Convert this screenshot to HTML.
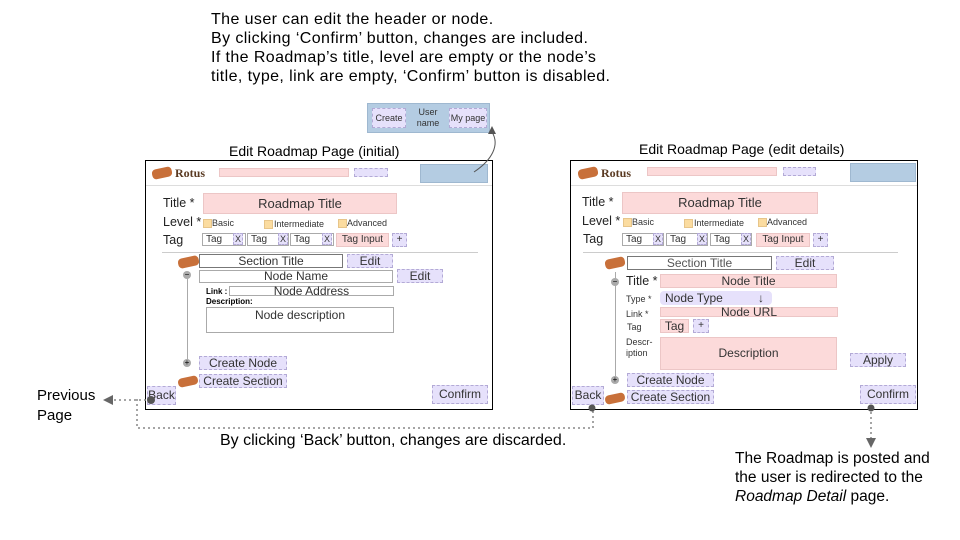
<!DOCTYPE html>
<html><head><meta charset="utf-8"><style>
body{margin:0;width:960px;height:540px;background:#fff;position:relative;font-family:"Liberation Sans",sans-serif;overflow:hidden}
div{position:absolute;box-sizing:border-box}
.t{white-space:nowrap;color:#000}
.lav{background:#e6e1fb;border:1px dashed #b3aad6;color:#333;text-align:center;font-size:12px}
.pink{background:#fcdada;border:1px solid #ecc6c6;color:#333;text-align:center;font-size:12px}
.wb{background:#fff;border:1px solid #aaa;color:#333;text-align:center;font-size:12px}
.blue{background:#b4cce2;border:1px solid #9fb8d0}
.frame{border:1.5px solid #000;background:#fff}
.logo{background:#c8703a;border-radius:4px;transform:rotate(-12deg)}
.cb{width:9px;height:9px;background:#fbdca0;border:1px solid #e7c58a}
.s{font-size:9px;color:#333}
.lbl{font-size:12.5px;color:#222}
.circ{width:8px;height:8px;border-radius:50%;background:#aaa;font-size:8px;line-height:7px;text-align:center;color:#000}
</style></head><body>

<div class="t" style="left:211px;top:10px;font-size:16px;letter-spacing:0.4px;line-height:19px">The user can edit the header or node.<br>By clicking ‘Confirm’ button, changes are included.<br>If the Roadmap’s title, level are empty or the node’s<br>title, type, link are empty, ‘Confirm’ button is disabled.</div>

<div class="blue" style="left:367px;top:103px;width:123px;height:30px"></div>
<div class="lav" style="left:372px;top:108px;width:34px;height:20px;font-size:9px;line-height:18px">Create</div>
<div class="t" style="left:414px;top:107px;width:28px;font-size:9px;line-height:11px;text-align:center;color:#333">User<br>name</div>
<div class="lav" style="left:449px;top:108px;width:38px;height:20px;font-size:9px;line-height:18px">My page</div>

<div class="t" style="left:229px;top:143px;font-size:14px">Edit Roadmap Page (initial)</div>
<div class="t" style="left:639px;top:141px;font-size:14px">Edit Roadmap Page (edit details)</div>

<!-- LEFT FRAME -->
<div class="frame" style="left:145px;top:160px;width:348px;height:250px"></div>
<div style="left:146px;top:185px;width:346px;height:1px;background:#ddd"></div>
<div class="logo" style="left:152px;top:168px;width:20px;height:10px"></div>
<div class="t" style="left:175px;top:166px;font-size:12px;font-weight:bold;color:#5a3a22;font-family:'Liberation Serif',serif">Rotus</div>
<div class="pink" style="left:219px;top:168px;width:130px;height:9px"></div>
<div class="lav" style="left:354px;top:168px;width:34px;height:9px"></div>
<div class="blue" style="left:420px;top:164px;width:68px;height:19px"></div>

<div class="lbl" style="left:163px;top:196px">Title *</div>
<div class="pink" style="left:203px;top:193px;width:194px;height:21px;font-size:13px;line-height:19px">Roadmap Title</div>
<div class="lbl" style="left:163px;top:215px">Level *</div>
<div class="cb" style="left:203px;top:219px"></div><div class="s" style="left:212px;top:218px">Basic</div>
<div class="cb" style="left:264px;top:220px"></div><div class="s" style="left:274px;top:219px">Intermediate</div>
<div class="cb" style="left:338px;top:219px"></div><div class="s" style="left:347px;top:218px">Advanced</div>
<div class="lbl" style="left:163px;top:233px">Tag</div>
<div class="wb" style="left:202px;top:233px;width:44px;height:13px;text-align:left;padding-left:3px;font-size:10px;line-height:11px">Tag</div><div class="lav" style="left:233px;top:233px;width:10px;height:12px;font-size:9px;line-height:10px">X</div>
<div class="wb" style="left:247px;top:233px;width:42px;height:13px;text-align:left;padding-left:3px;font-size:10px;line-height:11px">Tag</div><div class="lav" style="left:278px;top:233px;width:10px;height:12px;font-size:9px;line-height:10px">X</div>
<div class="wb" style="left:290px;top:233px;width:44px;height:13px;text-align:left;padding-left:3px;font-size:10px;line-height:11px">Tag</div><div class="lav" style="left:322px;top:233px;width:10px;height:12px;font-size:9px;line-height:10px">X</div>
<div class="pink" style="left:336px;top:233px;width:53px;height:14px;font-size:10px;line-height:12px">Tag Input</div>
<div class="lav" style="left:392px;top:233px;width:15px;height:14px;font-size:10px;line-height:12px">+</div>
<div style="left:162px;top:252px;width:316px;height:1px;background:#ccc"></div>

<div style="left:187px;top:272px;width:1px;height:92px;background:#aaa"></div>
<div class="logo" style="left:178px;top:257px;width:21px;height:10px"></div>
<div class="wb" style="left:199px;top:254px;width:144px;height:14px;border-color:#777;line-height:12px">Section Title</div>
<div class="lav" style="left:347px;top:254px;width:46px;height:14px;line-height:12px">Edit</div>
<div class="circ" style="left:183px;top:271px">−</div>
<div class="wb" style="left:199px;top:270px;width:194px;height:13px;line-height:11px">Node Name</div>
<div class="lav" style="left:397px;top:269px;width:46px;height:14px;line-height:12px">Edit</div>
<div class="t" style="left:206px;top:287px;font-size:8px;font-weight:bold">Link :</div>
<div class="wb" style="left:229px;top:286px;width:165px;height:10px;line-height:8px">Node Address</div>
<div class="t" style="left:206px;top:297px;font-size:8px;font-weight:bold">Description:</div>
<div class="wb" style="left:206px;top:307px;width:188px;height:26px;line-height:14px">Node description</div>
<div class="circ" style="left:183px;top:359px">+</div>
<div class="lav" style="left:199px;top:356px;width:88px;height:14px;line-height:12px">Create Node</div>
<div class="logo" style="left:178px;top:377px;width:20px;height:9px"></div>
<div class="lav" style="left:199px;top:374px;width:88px;height:14px;line-height:12px">Create Section</div>
<div class="lav" style="left:147px;top:386px;width:29px;height:19px;line-height:17px">Back</div>
<div class="lav" style="left:432px;top:385px;width:56px;height:19px;line-height:17px">Confirm</div>

<!-- RIGHT FRAME -->
<div class="frame" style="left:570px;top:160px;width:348px;height:250px"></div>
<div style="left:571px;top:185px;width:346px;height:1px;background:#ddd"></div>
<div class="logo" style="left:578px;top:168px;width:20px;height:10px"></div>
<div class="t" style="left:601px;top:166px;font-size:12px;font-weight:bold;color:#5a3a22;font-family:'Liberation Serif',serif">Rotus</div>
<div class="pink" style="left:647px;top:167px;width:130px;height:9px"></div>
<div class="lav" style="left:783px;top:167px;width:33px;height:9px"></div>
<div class="blue" style="left:850px;top:163px;width:66px;height:19px"></div>

<div class="lbl" style="left:582px;top:195px">Title *</div>
<div class="pink" style="left:622px;top:192px;width:196px;height:22px;font-size:13px;line-height:20px">Roadmap Title</div>
<div class="lbl" style="left:582px;top:214px">Level *</div>
<div class="cb" style="left:623px;top:218px"></div><div class="s" style="left:632px;top:217px">Basic</div>
<div class="cb" style="left:684px;top:219px"></div><div class="s" style="left:694px;top:218px">Intermediate</div>
<div class="cb" style="left:758px;top:218px"></div><div class="s" style="left:767px;top:217px">Advanced</div>
<div class="lbl" style="left:583px;top:232px">Tag</div>
<div class="wb" style="left:622px;top:233px;width:42px;height:13px;text-align:left;padding-left:3px;font-size:10px;line-height:11px">Tag</div><div class="lav" style="left:653px;top:233px;width:10px;height:12px;font-size:9px;line-height:10px">X</div>
<div class="wb" style="left:666px;top:233px;width:42px;height:13px;text-align:left;padding-left:3px;font-size:10px;line-height:11px">Tag</div><div class="lav" style="left:697px;top:233px;width:10px;height:12px;font-size:9px;line-height:10px">X</div>
<div class="wb" style="left:710px;top:233px;width:42px;height:13px;text-align:left;padding-left:3px;font-size:10px;line-height:11px">Tag</div><div class="lav" style="left:741px;top:233px;width:10px;height:12px;font-size:9px;line-height:10px">X</div>
<div class="pink" style="left:756px;top:233px;width:54px;height:14px;font-size:10px;line-height:12px">Tag Input</div>
<div class="lav" style="left:813px;top:233px;width:15px;height:14px;font-size:10px;line-height:12px">+</div>
<div style="left:583px;top:252px;width:315px;height:1px;background:#ccc"></div>

<div style="left:615px;top:272px;width:1px;height:110px;background:#aaa"></div>
<div class="logo" style="left:605px;top:258px;width:20px;height:10px"></div>
<div class="wb" style="left:627px;top:256px;width:145px;height:14px;border-color:#777;line-height:12px;color:#555">Section Title</div>
<div class="lav" style="left:776px;top:256px;width:58px;height:14px;line-height:12px">Edit</div>
<div class="circ" style="left:611px;top:278px">−</div>
<div class="lbl" style="left:626px;top:274px">Title *</div>
<div class="pink" style="left:660px;top:274px;width:177px;height:14px;line-height:12px">Node Title</div>
<div class="t" style="left:626px;top:294px;font-size:9px;color:#333">Type *</div>
<div class="lav" style="left:660px;top:291px;width:112px;height:14px;border-style:solid;border-color:#e6e1fb;border-radius:4px;line-height:12px;text-align:left;padding-left:4px">Node Type<span style="position:absolute;left:97px;font-weight:bold">↓</span></div>
<div class="t" style="left:626px;top:309px;font-size:9px;color:#333">Link *</div>
<div class="pink" style="left:660px;top:307px;width:178px;height:10px;line-height:8px">Node URL</div>
<div class="t" style="left:627px;top:322px;font-size:9px;color:#333">Tag</div>
<div class="pink" style="left:660px;top:319px;width:29px;height:14px;line-height:12px">Tag</div>
<div class="lav" style="left:693px;top:319px;width:16px;height:14px;font-size:10px;line-height:12px">+</div>
<div class="t" style="left:626px;top:337px;font-size:9px;line-height:11px;color:#333">Descr-<br>iption</div>
<div class="pink" style="left:660px;top:337px;width:177px;height:33px;line-height:31px">Description</div>
<div class="lav" style="left:850px;top:353px;width:56px;height:14px;line-height:12px">Apply</div>
<div class="circ" style="left:611px;top:376px">+</div>
<div class="lav" style="left:627px;top:373px;width:87px;height:14px;line-height:12px">Create Node</div>
<div class="logo" style="left:605px;top:394px;width:20px;height:9px"></div>
<div class="lav" style="left:627px;top:390px;width:87px;height:14px;line-height:12px">Create Section</div>
<div class="lav" style="left:572px;top:386px;width:32px;height:19px;line-height:17px">Back</div>
<div class="lav" style="left:860px;top:385px;width:56px;height:19px;line-height:17px">Confirm</div>

<svg width="960" height="540" style="position:absolute;left:0;top:0" xmlns="http://www.w3.org/2000/svg">
<g fill="none" stroke="#888" stroke-width="2" stroke-dasharray="0,5" stroke-linecap="round">
<path d="M150,400 L114,400"/>
<path d="M137,400 L137,428 L593,428 L593,410"/>
<path d="M871,408 L871,440"/>
</g>
<path d="M103,400 L113,395 L113,405 Z" fill="#666"/>
<path d="M866,438 L876,438 L871,448 Z" fill="#666"/>
<circle cx="151" cy="400" r="4" fill="#555"/>
<circle cx="592" cy="408" r="3.5" fill="#555"/>
<circle cx="871" cy="408" r="3.5" fill="#555"/>
<path d="M474,172 C492,160 500,145 492,132" fill="none" stroke="#555" stroke-width="1"/>
<path d="M488,134 L492,126 L496,134 Z" fill="#555"/>
</svg>

<div class="t" style="left:37px;top:386px;font-size:15px;line-height:20px">Previous<br>Page</div>
<div class="t" style="left:220px;top:432px;font-size:16px">By clicking ‘Back’ button, changes are discarded.</div>
<div class="t" style="left:735px;top:449px;font-size:15.5px;line-height:19px">The Roadmap is posted and<br>the user is redirected to the<br><i>Roadmap Detail</i> page.</div>
</body></html>
